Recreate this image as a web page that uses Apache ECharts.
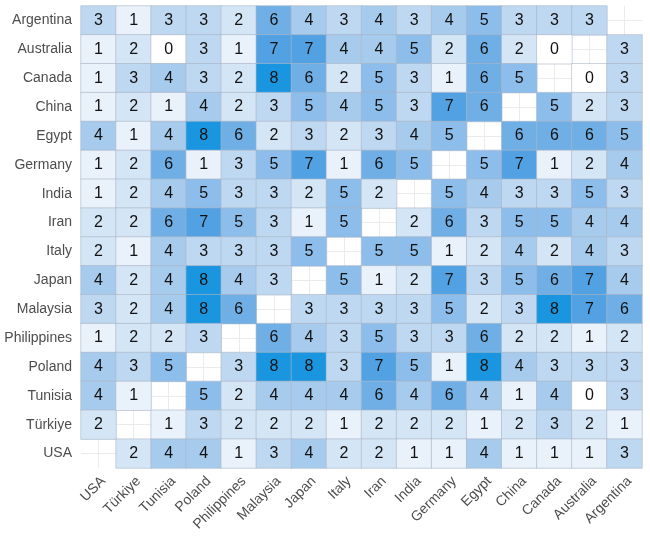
<!DOCTYPE html>
<html>
<head>
<meta charset="utf-8">
<script src="https://cdn.jsdelivr.net/npm/echarts@6/dist/echarts.min.js"></script>
<style>
html, body { margin: 0; padding: 0; background: #fff; }
#chart { width: 650px; height: 536px; }
</style>
</head>
<body>
<div id="chart"></div>
<script>
// rows top -> bottom
const rowNames = ['Argentina', 'Australia', 'Canada', 'China', 'Egypt', 'Germany', 'India', 'Iran',
  'Italy', 'Japan', 'Malaysia', 'Philippines', 'Poland', 'Tunisia', 'Türkiye', 'USA'];
// columns left -> right
const colNames = ['USA', 'Türkiye', 'Tunisia', 'Poland', 'Philippines', 'Malaysia', 'Japan', 'Italy',
  'Iran', 'India', 'Germany', 'Egypt', 'China', 'Canada', 'Australia', 'Argentina'];

// null = diagonal (no tile)
const counts = [
  [3, 1, 3, 3, 2, 6, 4, 3, 4, 3, 4, 5, 3, 3, 3, null],
  [1, 2, 0, 3, 1, 7, 7, 4, 4, 5, 2, 6, 2, 0, null, 3],
  [1, 3, 4, 3, 2, 8, 6, 2, 5, 3, 1, 6, 5, null, 0, 3],
  [1, 2, 1, 4, 2, 3, 5, 4, 5, 3, 7, 6, null, 5, 2, 3],
  [4, 1, 4, 8, 6, 2, 3, 2, 3, 4, 5, null, 6, 6, 6, 5],
  [1, 2, 6, 1, 3, 5, 7, 1, 6, 5, null, 5, 7, 1, 2, 4],
  [1, 2, 4, 5, 3, 3, 2, 5, 2, null, 5, 4, 3, 3, 5, 3],
  [2, 2, 6, 7, 5, 3, 1, 5, null, 2, 6, 3, 5, 5, 4, 4],
  [2, 1, 4, 3, 3, 3, 5, null, 5, 5, 1, 2, 4, 2, 4, 3],
  [4, 2, 4, 8, 4, 3, null, 5, 1, 2, 7, 3, 5, 6, 7, 4],
  [3, 2, 4, 8, 6, null, 3, 3, 3, 3, 5, 2, 3, 8, 7, 6],
  [1, 2, 2, 3, null, 6, 4, 3, 5, 3, 3, 6, 2, 2, 1, 2],
  [4, 3, 5, null, 3, 8, 8, 3, 7, 5, 1, 8, 4, 3, 3, 3],
  [4, 1, null, 5, 2, 4, 4, 4, 6, 4, 6, 4, 1, 4, 0, 3],
  [2, null, 1, 3, 2, 2, 2, 1, 2, 2, 2, 1, 2, 3, 2, 1],
  [null, 2, 4, 4, 1, 3, 4, 2, 2, 1, 1, 4, 1, 1, 1, 3]
];

const palette = ['#ffffff', '#e9f1fb', '#d4e5f6', '#bed8f1', '#a7cbed', '#8dbdea', '#70afe6', '#52a2e3', '#1a96e0'];

const tiles = [];
counts.forEach((row, r) => {
  row.forEach((v, c) => {
    if (v !== null) tiles.push([c, r, v]);
  });
});

const chart = echarts.init(document.getElementById('chart'));
chart.setOption({
  animation: false,
  textStyle: { fontFamily: 'Liberation Sans, Arial, sans-serif' },
  grid: { left: 81, right: 8, top: 6, bottom: 68 },
  xAxis: {
    type: 'category',
    data: colNames,
    axisLine: { show: false },
    axisTick: { show: false },
    axisLabel: { rotate: 45, verticalAlign: 'top', color: '#4d4d4d', fontSize: 14, margin: 6, interval: 0 },
    splitLine: { show: true, alignWithLabel: true, lineStyle: { color: '#ebebeb', width: 1 } }
  },
  yAxis: {
    type: 'category',
    data: rowNames,
    inverse: true,
    axisLine: { show: false },
    axisTick: { show: false },
    axisLabel: { color: '#4d4d4d', fontSize: 14, margin: 9, interval: 0 },
    splitLine: { show: true, alignWithLabel: true, lineStyle: { color: '#ebebeb', width: 1 } }
  },
  visualMap: {
    show: false,
    min: 0,
    max: 8,
    dimension: 2,
    inRange: { color: palette }
  },
  series: [{
    type: 'heatmap',
    data: tiles,
    label: { show: true, color: '#111', fontSize: 16 },
    itemStyle: { borderColor: '#a9b5c6', borderWidth: 0.6 }
  }]
});
</script>
</body>
</html>
